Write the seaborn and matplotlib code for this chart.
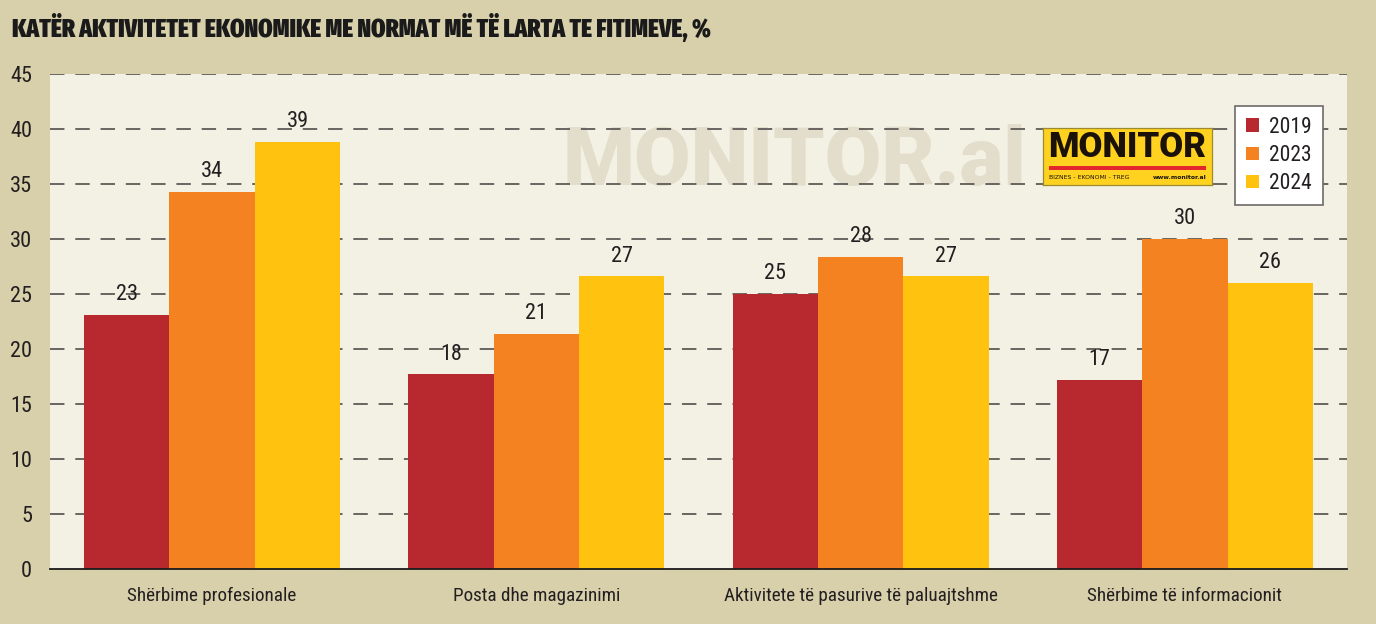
import os
import matplotlib
matplotlib.use("Agg")
import matplotlib.pyplot as plt
import seaborn as sns
import pandas as pd
from matplotlib import font_manager as fm
from matplotlib.font_manager import FontProperties
from matplotlib.patches import Rectangle

categories = ["Shërbime profesionale", "Posta dhe magazinimi",
              "Aktivitete të pasurive të paluajtshme", "Shërbime të informacionit"]
years = ["2019", "2023", "2024"]
v2019 = [23.1, 17.7, 25.0, 17.2]
v2023 = [34.3, 21.4, 28.4, 30.0]
v2024 = [38.8, 26.6, 26.6, 26.0]
yticks = [0, 5, 10, 15, 20, 25, 30, 35, 40, 45]
title = "KATËR AKTIVITETET EKONOMIKE ME NORMAT MË TË LARTA TE FITIMEVE, %"

colors = ["#B8282F", "#F58220", "#FFC20E"]
outer_bg = "#D8CFAB"
plot_bg = "#F3F0E4"
txt = "#231F20"


def _w(f):
    w = f.weight
    if isinstance(w, str):
        w = fm.weight_dict.get(w, 400)
    return int(w)


def pick_condensed(heavy):
    best, best_score = None, None
    for f in fm.fontManager.ttflist:
        if f.style != "normal":
            continue
        fn = os.path.basename(f.fname).lower()
        is_cond = ("condensed" in str(f.stretch)) or ("condensed" in fn) or ("narrow" in fn) or ("narrow" in f.name.lower())
        if not is_cond:
            continue
        w = _w(f)
        extra = "extracondensed" in fn or "extra" in str(f.stretch)
        fam = f.name.lower()
        if "mono" in fam or "serif" in fam:
            continue
        if "liberation" in fam and "narrow" in fam:
            fam_bonus = -60
        elif "roboto" in fam:
            fam_bonus = -50
        elif "noto sans" in fam and "cjk" not in fam:
            fam_bonus = -40
        elif "dejavu sans" in fam:
            fam_bonus = -10
        else:
            fam_bonus = 20
        if heavy:
            score = -w + (-150 if extra else 0) + fam_bonus * 0.2
        else:
            score = abs(w - 400) + (150 if extra else 0) + (40 if "semi" in fn else 0) + fam_bonus
        if best_score is None or score < best_score:
            best, best_score = f.fname, score
    return best


reg_path = pick_condensed(False)
heavy_path = pick_condensed(True)


def fp(size, heavy=False):
    path = heavy_path if heavy else reg_path
    if path:
        return FontProperties(fname=path, size=size)
    return FontProperties(family="Roboto", size=size * 0.85,
                          weight="black" if heavy else "normal")


rows = []
for y, vals in zip(years, [v2019, v2023, v2024]):
    for c, v in zip(categories, vals):
        rows.append({"cat": c, "year": y, "val": v})
df = pd.DataFrame(rows)

sns.set_theme(style="white")
plt.rcParams["font.family"] = ["DejaVu Sans"]

fig = plt.figure(figsize=(13.76, 6.24), dpi=100, facecolor=outer_bg)
W, H = 1376, 624
ax = fig.add_axes([50 / W, 1 - 569 / H, (1347 - 50) / W, (569 - 74) / H])
ax.set_facecolor(plot_bg)

sns.barplot(data=df, x="cat", y="val", hue="year", order=categories,
            hue_order=years, palette=colors, width=0.79, gap=0,
            saturation=1, ax=ax, zorder=3, edgecolor="none", linewidth=0)

for cont in ax.containers:
    ax.bar_label(cont, fmt="%.0f", padding=7, color=txt, fontproperties=fp(16))

ax.set_ylim(0, 45)
ax.set_xlim(-0.5, 3.5)
ax.set_yticks(yticks)
ax.set_yticklabels([str(t) for t in yticks], color=txt, fontproperties=fp(16))
ax.set_xticks(range(len(categories)))
ax.set_xticklabels(categories, color=txt, fontproperties=fp(13.8))
ax.tick_params(axis="y", length=0, pad=13)
ax.tick_params(axis="x", length=0, pad=13)
ax.set_xlabel("")
ax.set_ylabel("")
for t in yticks[1:]:
    ax.axhline(t, color="#5E5A56", lw=1.3, ls=(0, (8, 6)), zorder=2)
for s in ["top", "right", "left"]:
    ax.spines[s].set_visible(False)
ax.spines["bottom"].set_color("#1A1A1A")
ax.spines["bottom"].set_linewidth(1.3)
ax.spines["bottom"].set_zorder(4)

# watermark
ax.text((563 - 50) / (1347 - 50), (569 - 185) / (569 - 74), "MONITOR.al",
        transform=ax.transAxes, fontsize=59, family="Roboto", fontweight="black",
        color="#E3DECB", ha="left", va="baseline", zorder=1)

leg = ax.legend(loc="upper right",
                bbox_to_anchor=((1323 - 50) / (1347 - 50), (569 - 106) / (569 - 74)),
                borderaxespad=0, frameon=True, fancybox=False, handlelength=0.58,
                handleheight=0.58, handletextpad=0.5, labelspacing=0.33,
                borderpad=0.5, title=None, prop=fp(15.5))
leg.get_frame().set_edgecolor("#6E6A66")
leg.get_frame().set_linewidth(1.2)
leg.get_frame().set_facecolor("white")
leg.get_frame().set_alpha(1)
leg.set_zorder(6)
for t in leg.get_texts():
    t.set_color(txt)

# logo
lax = fig.add_axes([1043 / W, 1 - 185 / H, 169 / W, 57 / H])
lax.set_xlim(0, 1)
lax.set_ylim(0, 1)
lax.set_facecolor("#FFD21F")
for s in lax.spines.values():
    s.set_color("#9C8A30")
    s.set_linewidth(0.9)
lax.set_xticks([])
lax.set_yticks([])
lax.text(0.5, 0.65, "MONITOR", ha="center", va="center", fontsize=25,
         family="Roboto", fontweight="black", color="#1A1208")
lax.add_patch(Rectangle((0.035, 0.26), 0.93, 0.07, color="#E3262E", lw=0))
lax.text(0.035, 0.13, "BIZNES - EKONOMI - TREG", ha="left", va="center",
         fontsize=4.4, color="#1A1208")
lax.text(0.965, 0.13, "www.monitor.al", ha="right", va="center",
         fontsize=4.4, fontweight="bold", color="#1A1208")

fig.text(12 / W, 1 - 28 / H, title, color="#1A1A1A", ha="left", va="center",
         fontproperties=fp(18, heavy=True))

fig.savefig("out.png", dpi=100, facecolor=outer_bg)
